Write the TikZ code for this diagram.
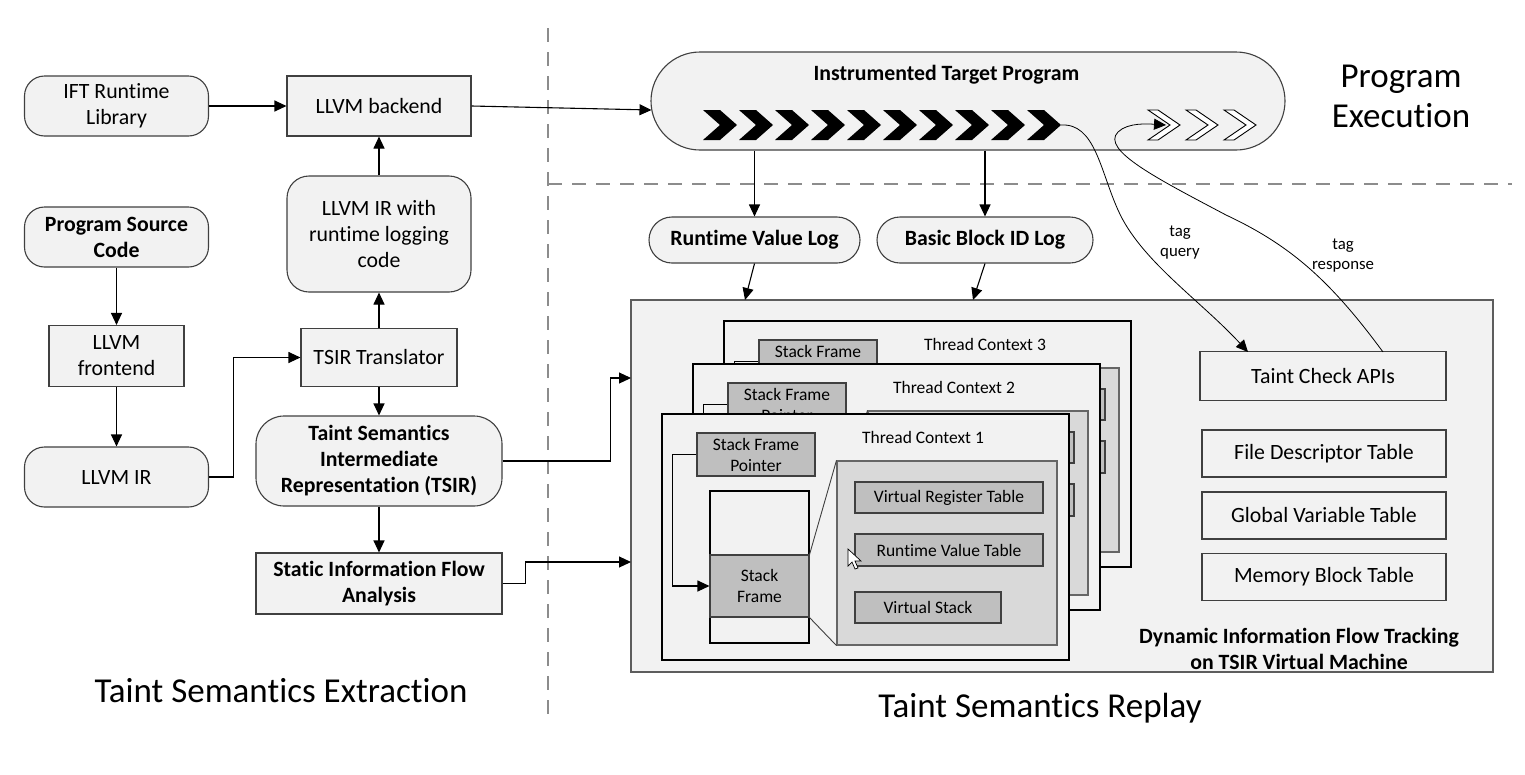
\documentclass[tikz,border=0pt]{standalone}
\usepackage{fontspec}
\setmainfont{Carlito}[Ligatures=NoCommon]
\usetikzlibrary{arrows.meta}
\definecolor{boxfill}{HTML}{F2F2F2}
\definecolor{edge}{HTML}{404040}
\definecolor{sfgray}{HTML}{BFBFBF}
\definecolor{panelgray}{HTML}{D9D9D9}
\definecolor{dashgray}{HTML}{8C8C8C}
\newcommand\fsM{\fontsize{21.8}{26}\selectfont}
\newcommand\fsS{\fontsize{17.5}{21}\selectfont}
\newcommand\fsT{\fontsize{16.8}{20}\selectfont}
\newcommand\fsL{\fontsize{35}{40}\selectfont}
\tikzset{
  base/.style={draw=edge, fill=boxfill, line width=1.1pt, align=center, inner sep=0pt, font=\fsM},
  rnd/.style={base, rounded corners=#1},
  sz/.style 2 args={minimum width=#1pt, minimum height=#2pt},
  arr/.style={-{Triangle[length=12pt,width=11pt]}, line width=1.1pt, draw=black},
  thin arr/.style={-{Triangle[length=12pt,width=11pt]}, line width=0.8pt, draw=black},
  dashline/.style={draw=dashgray, line width=1.2pt, dash pattern=on 14pt off 10pt},
  tcbox/.style={draw=black, fill=boxfill, line width=1.1pt, inner sep=0pt},
  graybox/.style={draw=edge, fill=sfgray, line width=1.1pt, inner sep=0pt, align=center, font=\fsS},
  panelbox/.style={draw=edge!80, fill=panelgray, line width=1.1pt, inner sep=0pt},
  colbox/.style={draw=black, fill=boxfill, line width=1.1pt, inner sep=0pt},
  lbl/.style={inner sep=0pt, align=center},
}
% #1,#2 shift; #3 index; #4 text of the pointer box; #5 1 if inner texts are shown
\newcommand\threadctx[5]{%
  \begin{scope}[shift={(#1,#2)}]
    \node[tcbox, sz={407}{246}] (tc#3) at (865.5,537) {};
    \node[lbl, font=\fsS] (tcl#3) at (923,437) {Thread Context #3};
    \node[graybox, sz={118}{43}] (sfp#3) at (756,454.5) {#4};
    \node[colbox, sz={99}{152}] (stk#3) at (759.5,567) {};
    \node[panelbox, sz={220}{184}] (pan#3) at (947,553) {};
    \ifnum#5=1
      \node[graybox, sz={99}{62}] (sf#3) at (759.5,586) {Stack\\Frame};
      \node[graybox, sz={188}{31}] (vrt#3) at (949,497.5) {Virtual Register Table};
      \node[graybox, sz={188}{32}] (rvt#3) at (949,550) {Runtime Value Table};
      \node[graybox, sz={146}{31}] (vs#3) at (928,607.5) {Virtual Stack};
    \else
      \node[graybox, sz={99}{62}] (sf#3) at (759.5,586) {};
      \node[graybox, sz={188}{31}] (vrt#3) at (949,497.5) {};
      \node[graybox, sz={188}{32}] (rvt#3) at (949,550) {};
      \node[graybox, sz={146}{31}] (vs#3) at (928,607.5) {};
    \fi
    \draw[line width=0.9pt, draw=edge] (sf#3.north east) -- (pan#3.north west);
    \draw[line width=0.9pt, draw=edge] (sf#3.south east) -- (pan#3.south west);
    \draw[arr] (sfp#3.west) -- ++(-24,0) |- (sf#3.west);
  \end{scope}}
\begin{document}
\begin{tikzpicture}[x=1pt,y=-1pt]
\useasboundingbox (0,0) rectangle (1525,774);
\fill[white] (0,0) rectangle (1525,774);

% dashed separators
\coordinate (vd1) at (548,28);
\coordinate (vd2) at (548,722);
\coordinate (hd1) at (548,184);
\coordinate (hd2) at (1512,184);
\draw[dashline] (vd1) -- (vd2);
\draw[dashline] (hd1) -- (hd2);

% left column
\node[rnd=20, sz={184}{60}] (ift) at (116.5,106) {IFT Runtime\\Library};
\node[base, sz={184}{60}] (back) at (379,106) {LLVM backend};
\node[rnd=22, sz={184}{116}] (irlog) at (379,234) {LLVM IR with\\runtime logging\\code};
\node[rnd=20, sz={184}{60}, font=\fsM\bfseries] (psc) at (116.5,237) {Program Source\\Code};
\node[base, sz={135}{61}] (fe) at (116.5,356) {LLVM\\frontend};
\node[rnd=20, sz={184}{60}] (llir) at (116.5,477) {LLVM IR};
\node[base, sz={156}{58}] (tr) at (379,357.5) {TSIR Translator};
\node[rnd=28, sz={246}{90}, font=\fsM\bfseries] (tsir) at (379,461) {Taint Semantics\\Intermediate\\Representation (TSIR)};
\node[base, sz={246}{61}, font=\fsM\bfseries] (sifa) at (379,583.5) {Static Information Flow\\Analysis};

\draw[arr] (ift.east) -- (back.west);
\draw[arr] (irlog.north) -- (back.south);
\draw[arr] (tr.north) -- (irlog.south);
\draw[arr] (psc.south) -- (fe.north);
\draw[arr] (fe.south) -- (llir.north);
\draw[arr] (llir.east) -- ++(24,0) |- (tr.west);
\draw[arr] (tr.south) -- (tsir.north);
\draw[arr] (tsir.south) -- (sifa.north);

% instrumented target program
\node[rnd=49, sz={634}{98}] (itp) at (968,101) {};
\node[lbl, font=\fsM\bfseries] (itpt) at (946.5,75) {Instrumented Target Program};
\foreach \i in {0,...,9}{
  \fill[black, shift={({703+36*\i},125)}] (0,-15) -- (17,-15) -- (34,0) -- (17,15) -- (0,15) -- (17,0) -- cycle;
}
\coordinate (chevtip) at (1061,125);
\foreach \i in {0,1,2}{
  \draw[fill=white, line width=0.9pt, shift={({1148+38*\i},125)}] (0,-15) -- (10,-15) -- (32,0) -- (10,15) -- (0,15) -- (22,0) -- cycle;
}
\coordinate (wchev) at (1166,125);
\coordinate (itpin) at (651.5,110);
\draw[arr] (back.east) -- (itpin);

% logs
\node[rnd=23, sz={211}{46}, font=\fsM\bfseries] (rvl) at (754.5,240) {Runtime Value Log};
\node[rnd=23, sz={216}{46}, font=\fsM\bfseries] (bbl) at (985,240) {Basic Block ID Log};
\draw[arr] (rvl.north |- itp.south) -- (rvl.north);
\draw[arr] (bbl.north |- itp.south) -- (bbl.north);

% DIFT box
\node[draw=edge!85, fill=boxfill, line width=1.3pt, sz={862}{372}, inner sep=0pt] (dift) at (1062,486) {};
\coordinate (dA) at (745,300);
\coordinate (dB) at (973,300);
\draw[arr] (rvl.south) -- (dA);
\draw[arr] (bbl.south) -- (dB);
\coordinate (dinA) at (631,378);
\coordinate (dinB) at (631,562);
\draw[arr] (tsir.east) -- ++(108,0) |- (dinA);
\draw[arr] (sifa.east) -- ++(23,0) |- (dinB);

\node[lbl, font=\fsM\bfseries] (diftt) at (1299,649) {Dynamic Information Flow Tracking\\on TSIR Virtual Machine};

% thread contexts (back to front)
\threadctx{62}{-93}{3}{Stack Frame\\\phantom{P}}{0}
\threadctx{31}{-50}{2}{Stack Frame\\Pointer}{0}
\threadctx{0}{0}{1}{Stack Frame\\Pointer}{1}

% cursor
\draw[fill=white, line width=0.7pt] (848,549) -- (848,566) -- (852,562) -- (855,569) -- (858,568) -- (855,561) -- (861,561) -- cycle;

% right tables
\node[base, sz={246}{49}] (tca) at (1323,376) {Taint Check APIs};
\node[base, sz={244}{47}] (fdt) at (1324,453.5) {File Descriptor Table};
\node[base, sz={244}{47}] (gvt) at (1324,515.5) {Global Variable Table};
\node[base, sz={244}{47}] (mbt) at (1324,577) {Memory Block Table};

% tag query / response
\coordinate (tqend) at (1248,352);
\coordinate (trstart) at (1383,352);
\draw[thin arr] (chevtip) .. controls (1095,123) and (1100,170) .. (1118,210) .. controls (1140,260) and (1200,300) .. (tqend);
\draw[thin arr] (trstart) .. controls (1330,280) and (1290,245) .. (1226,215) .. controls (1160,180) and (1100,150) .. (1118,132) .. controls (1128,122) and (1150,124) .. (wchev);
\node[lbl, font=\fsT] (tql) at (1180,243) {tag\\query};
\node[lbl, font=\fsT] (trl) at (1343,256) {tag\\response};

% section labels
\node[lbl, font=\fsL] (secext) at (281,691) {Taint Semantics Extraction};
\node[lbl, font=\fsL] (secrep) at (1040,708) {Taint Semantics Replay};
\node[lbl, font=\fsL] (secexe) at (1401,96) {Program\\Execution};
\end{tikzpicture}
\end{document}
